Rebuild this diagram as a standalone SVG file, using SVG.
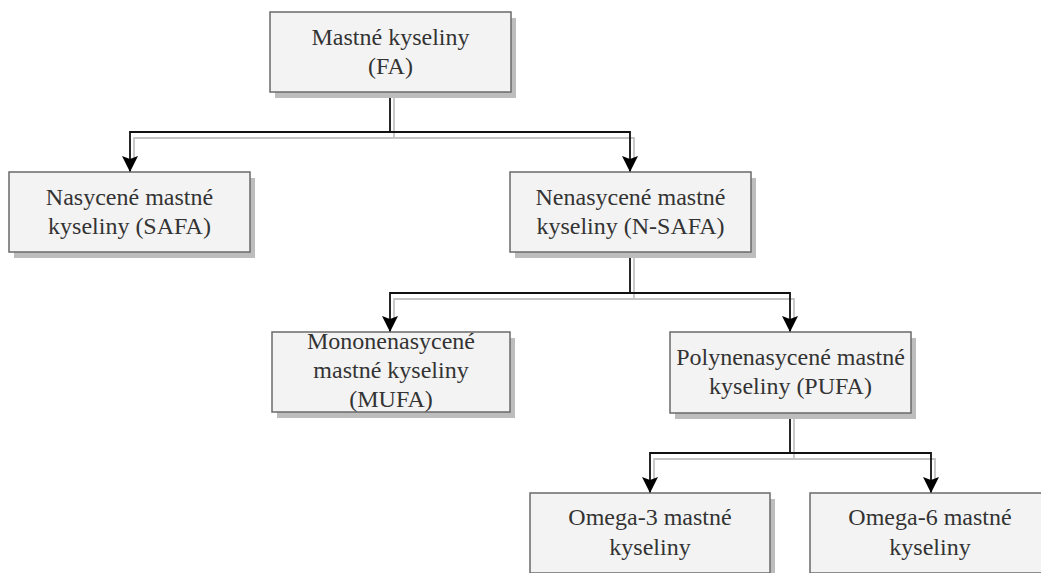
<svg xmlns="http://www.w3.org/2000/svg" width="1041" height="573" viewBox="0 0 1041 573">
<style>
.box{fill:#f3f3f3;stroke:#6a6a6a;stroke-width:1.5}
.sh{fill:#bdbdbd}
.t{font-family:"Liberation Serif","Times New Roman",serif;font-size:24px;fill:#333;text-anchor:middle}
.ln{fill:none;stroke:#111;stroke-width:1.8}
.gl{fill:none;stroke:#c4c4c4;stroke-width:1.8}
</style>
<defs>
<marker id="ah" markerUnits="userSpaceOnUse" markerWidth="18" markerHeight="18" viewBox="0 0 18 18" refX="9" refY="17" orient="0">
<path d="M1,1 L9,4 L17,1 L9,17 Z" fill="#000"/>
</marker>
</defs>
<rect width="1041" height="573" fill="#fff"/>
<g id="connectors">
<path class="gl" d="M394,92 V138 H134 V158 M394,138 H634 V158"/>
<path class="gl" d="M634,252 V299 H394 V318 M634,299 H794 V318"/>
<path class="gl" d="M794,413 V459 H654 V479 M794,459 H935 V479"/>
<path class="ln" d="M390,92 V132 H130 V172" marker-end="url(#ah)"/>
<path class="ln" d="M390,132 H630 V172" marker-end="url(#ah)"/>
<path class="ln" d="M630,252 V293 H390 V332" marker-end="url(#ah)"/>
<path class="ln" d="M630,293 H790 V332" marker-end="url(#ah)"/>
<path class="ln" d="M790,413 V453 H650 V493" marker-end="url(#ah)"/>
<path class="ln" d="M790,453 H931 V493" marker-end="url(#ah)"/>
</g>
<g id="fa">
<rect class="sh" x="275" y="18" width="241" height="80"/>
<rect class="box" x="270" y="12" width="241" height="80"/>
<text class="t" x="390.5" y="45">Mastné kyseliny</text>
<text class="t" x="390.5" y="74">(FA)</text>
</g>
<g id="safa">
<rect class="sh" x="14" y="178" width="241" height="80"/>
<rect class="box" x="9" y="172" width="241" height="80"/>
<text class="t" x="129.5" y="205">Nasycené mastné</text>
<text class="t" x="129.5" y="234">kyseliny (SAFA)</text>
</g>
<g id="nsafa">
<rect class="sh" x="515" y="178" width="241" height="80"/>
<rect class="box" x="510" y="172" width="241" height="80"/>
<text class="t" x="630.5" y="205">Nenasycené mastné</text>
<text class="t" x="630.5" y="234">kyseliny (N-SAFA)</text>
</g>
<g id="mufa">
<rect class="sh" x="277" y="338" width="238" height="80"/>
<rect class="box" x="272" y="332" width="238" height="80"/>
<text class="t" x="391" y="349">Mononenasycené</text>
<text class="t" x="391" y="378">mastné kyseliny</text>
<text class="t" x="391" y="407">(MUFA)</text>
</g>
<g id="pufa">
<rect class="sh" x="675" y="338" width="241" height="81"/>
<rect class="box" x="670" y="332" width="241" height="81"/>
<text class="t" x="790.5" y="365">Polynenasycené mastné</text>
<text class="t" x="790.5" y="394">kyseliny (PUFA)</text>
</g>
<g id="omega3">
<rect class="sh" x="535" y="499" width="240" height="80"/>
<rect class="box" x="530" y="493" width="240" height="80"/>
<text class="t" x="650" y="525">Omega-3 mastné</text>
<text class="t" x="650" y="555">kyseliny</text>
</g>
<g id="omega6">
<rect class="sh" x="815" y="499" width="240" height="80"/>
<rect class="box" x="810" y="493" width="240" height="80"/>
<text class="t" x="930" y="525">Omega-6 mastné</text>
<text class="t" x="930" y="555">kyseliny</text>
</g>
</svg>
